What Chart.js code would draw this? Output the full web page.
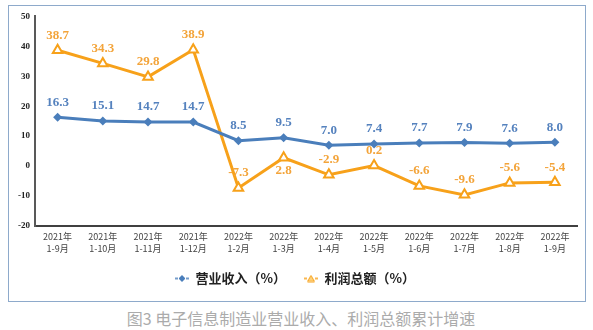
<!DOCTYPE html>
<html>
<head>
<meta charset="utf-8">
<script src="https://cdn.jsdelivr.net/npm/chart.js@4.4.0/dist/chart.umd.min.js"></script>
<style>
    body { margin: 0; background: #fff; width: 593px; height: 330px; position: relative; overflow: hidden; }
    #box { position: absolute; left: 8px; top: 5px; width: 576px; height: 295px; border: 1px solid #8eaacb; }
    #caption { position: absolute; left: 0; top: 306px; width: 602px; text-align: center;
               font: 16px "Noto Sans CJK SC"; color: #ababab; }
</style>
</head>
<body>
<div id="box"><canvas id="chart" width="576" height="295"></canvas></div>
<div id="caption">图3 电子信息制造业营业收入、利润总额累计增速</div>
<script>
const periods = [
    ['2021年', '1-9月'], ['2021年', '1-10月'], ['2021年', '1-11月'], ['2021年', '1-12月'],
    ['2022年', '1-2月'], ['2022年', '1-3月'], ['2022年', '1-4月'], ['2022年', '1-5月'],
    ['2022年', '1-6月'], ['2022年', '1-7月'], ['2022年', '1-8月'], ['2022年', '1-9月']
];
const revenueGrowth = [16.3, 15.1, 14.7, 14.7, 8.5, 9.5, 7.0, 7.4, 7.7, 7.9, 7.6, 8.0];
const profitGrowth = [38.7, 34.3, 29.8, 38.9, -7.3, 2.8, -2.9, 0.2, -6.6, -9.6, -5.6, -5.4];
const yTicks = [-20, -10, 0, 10, 20, 30, 40, 50];

const BLUE = '#4a7ebb';
const ORANGE = '#f7a11a';

// 凡例用の小さなアイコン（線＋マーカー）
function legendIcon(color, shape) {
    const c = document.createElement('canvas');
    c.width = 14; c.height = 8;
    const g = c.getContext('2d');
    g.strokeStyle = color;
    g.fillStyle = color;
    g.lineWidth = 1.5;
    g.beginPath();
    g.moveTo(0, 4); g.lineTo(3, 4);
    g.moveTo(11, 4); g.lineTo(14, 4);
    g.stroke();
    g.beginPath();
    if (shape === 'diamond') {
        g.moveTo(7, 1); g.lineTo(10, 4); g.lineTo(7, 7); g.lineTo(4, 4);
    } else {
        g.moveTo(7, 1); g.lineTo(10.5, 7); g.lineTo(3.5, 7);
    }
    g.closePath();
    if (shape !== 'diamond') g.fillStyle = '#ffd27a';
    g.fill();
    g.lineWidth = 1;
    g.stroke();
    return c;
}
const icons = [legendIcon(BLUE, 'diamond'), legendIcon(ORANGE, 'triangle')];

// 各点の上に数値を描く
const valueLabels = {
    id: 'valueLabels',
    afterDatasetsDraw(chart) {
        const ctx = chart.ctx;
        ctx.save();
        ctx.font = 'bold 13px "Liberation Serif"';
        ctx.textAlign = 'center';
        ctx.textBaseline = 'middle';
        chart.data.datasets.forEach((ds, i) => {
            const meta = chart.getDatasetMeta(i);
            ctx.fillStyle = ds.labelColor;
            meta.data.forEach((pt, j) => {
                const below = i === 1 && j === 5; // 2.8 はラベルを下に
                ctx.fillText(ds.data[j].toFixed(1), pt.x, pt.y + (below ? 13 : -15));
            });
        });
        ctx.restore();
    }
};

new Chart(document.getElementById('chart'), {
    type: 'line',
    data: {
        labels: periods,
        datasets: [{
            label: '营业收入（%）',
            data: revenueGrowth,
            borderColor: BLUE,
            backgroundColor: BLUE,
            labelColor: '#5582be',
            borderWidth: 3,
            pointStyle: 'rectRot',
            pointRadius: 4.5,
            pointBorderWidth: 0,
            tension: 0
        }, {
            label: '利润总额（%）',
            data: profitGrowth,
            borderColor: ORANGE,
            backgroundColor: '#fff',
            labelColor: '#f3a43a',
            borderWidth: 3,
            pointStyle: 'triangle',
            pointRadius: 5.5,
            pointBorderWidth: 2,
            pointBorderColor: ORANGE,
            pointBackgroundColor: '#fff',
            tension: 0
        }]
    },
    options: {
        responsive: false,
        animation: false,
        layout: { padding: { top: 9, right: 4, left: 0, bottom: 6 } },
        plugins: {
            tooltip: { enabled: false },
            legend: {
                position: 'bottom',
                labels: {
                    usePointStyle: true,
                    pointStyleWidth: 14,
                    padding: 18,
                    color: '#222',
                    font: { family: '"Noto Sans CJK SC"', size: 13, weight: 'bold' },
                    generateLabels: (chart) => chart.data.datasets.map((ds, i) => ({
                        text: ds.label,
                        pointStyle: icons[i],
                        fontColor: '#222',
                        fillStyle: 'transparent',
                        strokeStyle: 'transparent',
                        lineWidth: 0,
                        hidden: false,
                        datasetIndex: i
                    }))
                }
            }
        },
        scales: {
            x: {
                offset: true,
                grid: { drawOnChartArea: false, drawTicks: false },
                border: { color: '#404040', width: 2 },
                ticks: {
                    padding: 5,
                    maxRotation: 0,
                    autoSkip: false,
                    color: '#444',
                    font: { family: '"Noto Sans CJK SC"', size: 9, lineHeight: 1.3 }
                },
                afterFit: (s) => { s.height = 28; }
            },
            y: {
                min: -20,
                max: 50,
                afterBuildTicks: (s) => { s.ticks = yTicks.map(v => ({ value: v })); },
                grid: { drawOnChartArea: false, drawTicks: false },
                border: { color: '#595959', width: 2 },
                ticks: {
                    padding: 5,
                    color: '#222',
                    font: { family: '"Liberation Serif"', size: 9, weight: 'bold' }
                },
                afterFit: (s) => { s.width = 26; }
            }
        }
    },
    plugins: [valueLabels]
});
</script>
</body>
</html>
